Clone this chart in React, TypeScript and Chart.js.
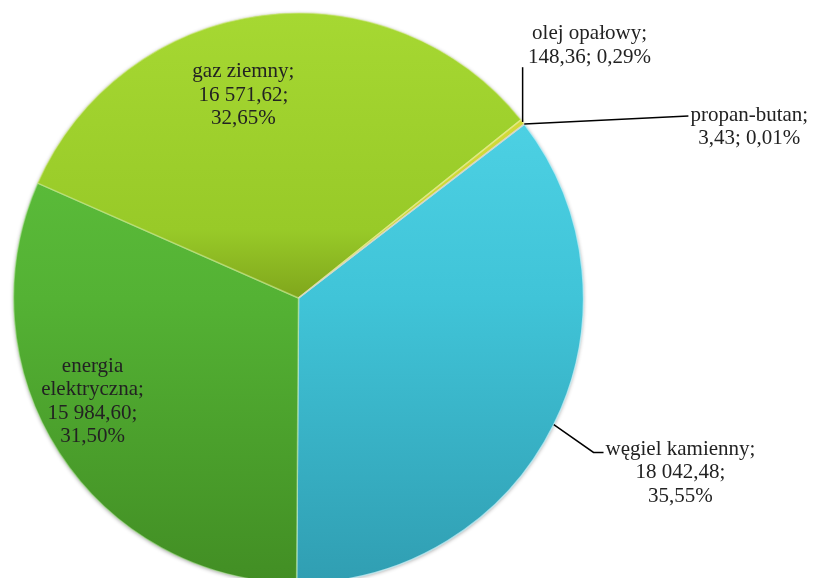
import React, { useEffect, useRef } from "react";
import { Chart, registerables } from "chart.js";

Chart.register(...registerables);

// ---- data ----
const categories = ["węgiel kamienny", "energia elektryczna", "gaz ziemny", "olej opałowy", "propan-butan"];
const values = [18042.48, 15984.6, 16571.62, 148.36, 3.43];

// ---- style / layout (kept apart from the data) ----
const PIE_RADIUS = 285;
const ROTATION = 52.4;
const FONT_FAMILY = '"Liberation Serif", "Times New Roman", "DejaVu Serif", serif';
const FONT = "21px " + FONT_FAMILY;
const LINE_H = 23.5;
const TEXT_COLOR = "#222222";

// gradient stops per slice: [offset, rgb]
const sliceStops: [number, string][][] = [
  [[0, "rgb(84,216,234)"], [0.5, "rgb(64,196,216)"], [1, "rgb(48,158,178)"]],
  [[0, "rgb(98,198,64)"], [0.5, "rgb(84,178,52)"], [1, "rgb(66,142,36)"]],
  [[0, "rgb(166,216,50)"], [0.38, "rgb(152,202,40)"], [0.5, "rgb(128,166,28)"], [1, "rgb(110,140,20)"]],
  [[0, "rgb(214,222,60)"], [1, "rgb(190,200,40)"]],
  [[0, "rgb(170,170,170)"], [1, "rgb(140,140,140)"]],
];
const sliceBorders = [
  "rgba(200,240,248,0.75)",
  "rgba(190,235,170,0.55)",
  "rgba(220,240,150,0.5)",
  "rgba(240,240,150,0.7)",
  "rgba(210,210,210,0.8)",
];

// label placement: polar from the pie centre (deg clockwise from top, distance in radii)
type LabelLayout = {
  angle: number;
  dist: number;
  splitName: boolean;
  joinValuePct: boolean;
  leader: "none" | "vertical" | "straight" | "elbow";
};
const labelLayout: LabelLayout[] = [
  { angle: 114.6, dist: 1.474, splitName: false, joinValuePct: false, leader: "elbow" },
  { angle: -116.7, dist: 0.809, splitName: true, joinValuePct: false, leader: "none" },
  { angle: -15.2, dist: 0.738, splitName: false, joinValuePct: false, leader: "none" },
  { angle: 49.05, dist: 1.352, splitName: false, joinValuePct: true, leader: "vertical" },
  { angle: 69.2, dist: 1.692, splitName: false, joinValuePct: true, leader: "straight" },
];

const total = values.reduce((a, b) => a + b, 0);

function fmtValue(v: number): string {
  const [int, dec] = v.toFixed(2).split(".");
  const withSpaces = int.replace(/\B(?=(\d{3})+(?!\d))/g, " ");
  return withSpaces + "," + dec;
}
function fmtPct(v: number): string {
  return ((v / total) * 100).toFixed(2).replace(".", ",") + "%";
}

function labelLines(i: number): string[] {
  const lay = labelLayout[i];
  const name = categories[i];
  const nameLines = lay.splitName ? name.split(" ") : [name];
  nameLines[nameLines.length - 1] += ";";
  const v = fmtValue(values[i]);
  const p = fmtPct(values[i]);
  if (lay.joinValuePct) return [...nameLines, v + "; " + p];
  return [...nameLines, v + ";", p];
}

const labelPlugin = {
  id: "pieLabels",
  beforeDatasetsDraw(chart: any) {
    const meta = chart.getDatasetMeta(0);
    const arc = meta.data[0];
    if (!arc) return;
    const ctx = chart.ctx;
    ctx.save();
    ctx.shadowColor = "rgba(0,0,0,0.45)";
    ctx.shadowBlur = 4;
    ctx.shadowOffsetX = 0;
    ctx.shadowOffsetY = 1;
    ctx.fillStyle = "rgb(90,150,60)";
    ctx.beginPath();
    ctx.arc(arc.x, arc.y, arc.outerRadius - 0.5, 0, Math.PI * 2);
    ctx.fill();
    ctx.restore();
  },
  afterDatasetsDraw(chart: any) {
    const meta = chart.getDatasetMeta(0);
    const ctx = chart.ctx;
    ctx.save();
    ctx.font = FONT;
    ctx.fillStyle = TEXT_COLOR;
    ctx.textAlign = "center";
    ctx.textBaseline = "middle";
    meta.data.forEach((el: any, i: number) => {
      const lay = labelLayout[i];
      const cx = el.x;
      const cy = el.y;
      const R = el.outerRadius;
      const a = (lay.angle * Math.PI) / 180;
      const bx = cx + Math.sin(a) * lay.dist * R;
      const by = cy - Math.cos(a) * lay.dist * R;
      const lines = labelLines(i);
      const y0 = by - ((lines.length - 1) / 2) * LINE_H;
      lines.forEach((t, k) => ctx.fillText(t, bx, y0 + k * LINE_H));

      if (lay.leader !== "none") {
        const mid = (el.startAngle + el.endAngle) / 2;
        const sx = cx + Math.cos(mid) * R;
        const sy = cy + Math.sin(mid) * R;
        const w0 = ctx.measureText(lines[0]).width;
        const left0 = bx - w0 / 2;
        ctx.strokeStyle = "#000";
        ctx.lineWidth = 1.5;
        ctx.beginPath();
        ctx.moveTo(sx, sy);
        if (lay.leader === "vertical") {
          ctx.lineTo(sx, y0 + (lines.length - 1) * LINE_H + 10);
        } else if (lay.leader === "straight") {
          ctx.lineTo(left0 - 2, y0 + 1);
        } else {
          ctx.lineTo(left0 - 12, y0 + 3);
          ctx.lineTo(left0 - 2, y0 + 3);
        }
        ctx.stroke();
      }
    });
    ctx.restore();
  },
};

export default function App() {
  const ref = useRef<HTMLCanvasElement | null>(null);
  useEffect(() => {
    if (!ref.current) return;
    let chart: Chart | null = null;
    let cancelled = false;
    const build = () => {
      if (cancelled || !ref.current) return;
      chart = new Chart(ref.current, {
        type: "pie",
        data: {
          labels: categories,
          datasets: [
            {
              data: values,
              clip: false as any,
              backgroundColor: (c: any) => {
                const ch = c.chart;
                const area = ch.chartArea;
                const i = c.dataIndex;
                const stops = sliceStops[i] || sliceStops[0];
                if (!area) return stops[0][1];
                const cy = (area.top + area.bottom) / 2;
                const g = ch.ctx.createLinearGradient(0, cy - PIE_RADIUS, 0, cy + PIE_RADIUS);
                stops.forEach(([o, col]) => g.addColorStop(o, col));
                return g;
              },
              borderColor: sliceBorders,
              borderWidth: 1.5,
              radius: PIE_RADIUS,
            } as any,
          ],
        },
        options: {
          animation: false,
          responsive: false,
          rotation: ROTATION,
          layout: { padding: { left: 13, right: 234, top: 18, bottom: 0 } },
          plugins: {
            legend: { display: false },
            tooltip: { enabled: false },
          },
        } as any,
        plugins: [labelPlugin],
      });
    };
    const fonts: any = (document as any).fonts;
    if (fonts && fonts.load) {
      fonts.load(FONT, "ąęółżź0123").then(build, build);
    } else {
      build();
    }
    return () => {
      cancelled = true;
      if (chart) chart.destroy();
    };
  }, []);
  return (
    <div style={{ position: "fixed", left: 0, top: 0, width: 818, height: 578, background: "#fff" }}>
      <canvas ref={ref} width={818} height={578} style={{ display: "block" }} />
    </div>
  );
}
